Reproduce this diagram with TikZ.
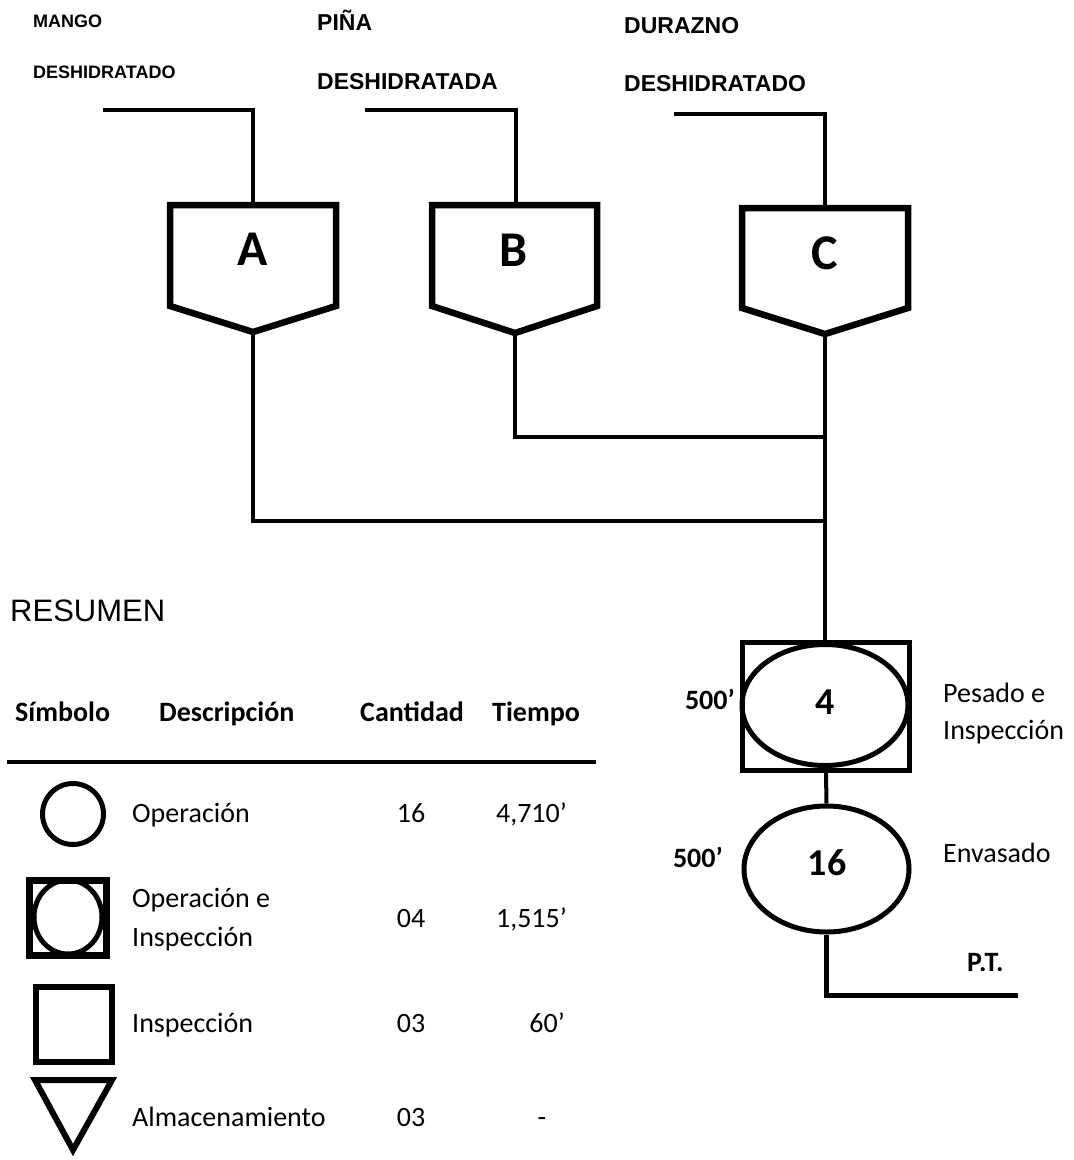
\documentclass[tikz,border=0pt]{standalone}
\usepackage{fontspec}
\usetikzlibrary{shapes.geometric}
\setmainfont{Carlito}
\newfontfamily\arialf{Liberation Sans}
\begin{document}
\begin{tikzpicture}[x=1pt,y=-1pt,
  feed/.style={line width=4pt,line join=miter},
  boxline/.style={line width=6.5pt,line join=miter},
  conn/.style={line width=4pt,line join=miter},
  hdr/.style={inner sep=0pt,anchor=base west,font=\arialf\bfseries\fontsize{23}{26}\selectfont},
  hdrs/.style={inner sep=0pt,anchor=base west,font=\arialf\bfseries\fontsize{18}{20}\selectfont},
  letr/.style={inner sep=0pt,anchor=base,font=\bfseries\fontsize{50}{56}\selectfont},
  num/.style={inner sep=0pt,anchor=base,font=\bfseries\fontsize{38}{42}\selectfont},
  lbl/.style={inner sep=0pt,anchor=base west,font=\fontsize{28}{32}\selectfont},
  lblb/.style={inner sep=0pt,anchor=base west,font=\bfseries\fontsize{28}{32}\selectfont},
  val/.style={inner sep=0pt,anchor=base,font=\fontsize{28}{32}\selectfont},
  valr/.style={inner sep=0pt,anchor=base east,font=\fontsize{28}{32}\selectfont}]
\useasboundingbox (0,0) rectangle (1074,1160);

% ---------- top labels ----------
\node[hdrs] (mango1) at (33,27.5) {MANGO};
\node[hdrs] (mango2) at (33,78.5) {DESHIDRATADO};
\node[hdr] (pina1) at (317,30) {PIÑA};
\node[hdr] (pina2) at (317,89) {DESHIDRATADA};
\node[hdr] (dur1) at (624,33) {DURAZNO};
\node[hdr] (dur2) at (624,91) {DESHIDRATADO};

% ---------- boxes A B C ----------
\coordinate (Atop) at (253,205); \coordinate (Atip) at (253,332);
\coordinate (Btop) at (516,205); \coordinate (Btip) at (515,333);
\coordinate (Ctop) at (825,208); \coordinate (Ctip) at (825,334);
\draw[boxline] (170,205) -- (336,205) -- (336,306) -- (Atip) -- (170,306) -- cycle;
\draw[boxline] (432,205) -- (597,205) -- (597,306) -- (Btip) -- (432,306) -- cycle;
\draw[boxline] (742,208) -- (908,208) -- (908,308) -- (Ctip) -- (742,308) -- cycle;
\node[letr] (A) at (253,265) {A};
\node[letr] (B) at (514,266) {B};
\node[letr] (C) at (825,269) {C};

% feed lines
\coordinate (fA) at (103,110);
\coordinate (fB) at (365,110);
\coordinate (fC) at (674,114);
\draw[feed] (fA) -- (Atop |- fA) -- (Atop);
\draw[feed] (fB) -- (Btop |- fB) -- (Btop);
\draw[feed] (fC) -- (Ctop |- fC) -- (Ctop);

% ---------- combined stage ----------
\coordinate (jA) at (825,521);
\coordinate (jB) at (825,437);
\draw[conn] (Atip) -- (Atip |- jA) -- (jA);
\draw[conn] (Btip) -- (Btip |- jB) -- (jB);

\node[draw,line width=5pt,minimum width=167pt,minimum height=128pt,inner sep=0pt] (sq4) at (826,706) {};
\node[draw,ellipse,line width=5pt,minimum width=166pt,minimum height=121pt,inner sep=0pt] (e4) at (825,705) {};
\node[num] (n4) at (825,714) {4};
\draw[conn] (Ctip) -- (sq4.north -| Ctip);
\node[lblb,anchor=base east] (t4) at (735,709) {500’};
\node[lbl] (p1) at (943,702) {Pesado e};
\node[lbl] (p2) at (943,739) {Inspección};

\node[draw,ellipse,line width=5pt,minimum width=165pt,minimum height=126pt,inner sep=0pt] (e16) at (826.5,869) {};
\node[num] (n16) at (827,875) {16};
\draw[conn] (sq4.south) -- (e16.north);
\node[lblb,anchor=base east] (t16) at (723,867) {500’};
\node[lbl] (env) at (943,862) {Envasado};
\coordinate (pt) at (1018,995);
\draw[line width=5pt,line join=miter] (e16.south) -- (e16.south |- pt) -- (pt);
\node[lblb] (PT) at (967,971) {P.T.};

% ---------- legend ----------
\node[inner sep=0pt,anchor=base west,font=\arialf\fontsize{31}{34}\selectfont] (res) at (10,621) {RESUMEN};
\node[lblb] (h1) at (15,721) {Símbolo};
\node[lblb] (h2) at (159,721) {Descripción};
\node[lblb] (h3) at (360,721) {Cantidad};
\node[lblb] (h4) at (492,721) {Tiempo};
\coordinate (lnL) at (7,762);
\coordinate (lnR) at (596,762);
\draw[line width=4pt] (lnL) -- (lnR);

% row 1
\node[draw,circle,line width=5pt,minimum size=61pt,inner sep=0pt] (s1) at (73,814) {};
\node[lbl] (d1) at (132,822) {Operación};
\node[val] (c1) at (411,822) {16};
\node[valr] (t1) at (567,822) {4,710’};
% row 2
\node[draw,line width=7pt,minimum width=77pt,minimum height=75pt,inner sep=0pt] (s2) at (68,918) {};
\node[draw,ellipse,line width=5pt,minimum width=68pt,minimum height=74pt,inner sep=0pt] (s2c) at (68,917) {};
\node[lbl] (d2a) at (132,907) {Operación e};
\node[lbl] (d2b) at (132,946) {Inspección};
\node[val] (c2) at (411,927) {04};
\node[valr] (t2) at (567,927) {1,515’};
% row 3
\node[draw,line width=6pt,minimum width=76pt,minimum height=75pt,inner sep=0pt] (s3) at (74,1024.5) {};
\node[lbl] (d3) at (132,1032) {Inspección};
\node[val] (c3) at (411,1032) {03};
\node[valr] (t3) at (565,1032) {60’};
% row 4
\draw[line width=6pt,line join=miter] (35,1080) -- (112,1080) -- (73,1150) -- cycle;
\node[lbl] (d4) at (132,1126) {Almacenamiento};
\node[val] (c4) at (411,1126) {03};
\node[val] (t4b) at (542,1126) {-};
\end{tikzpicture}
\end{document}
